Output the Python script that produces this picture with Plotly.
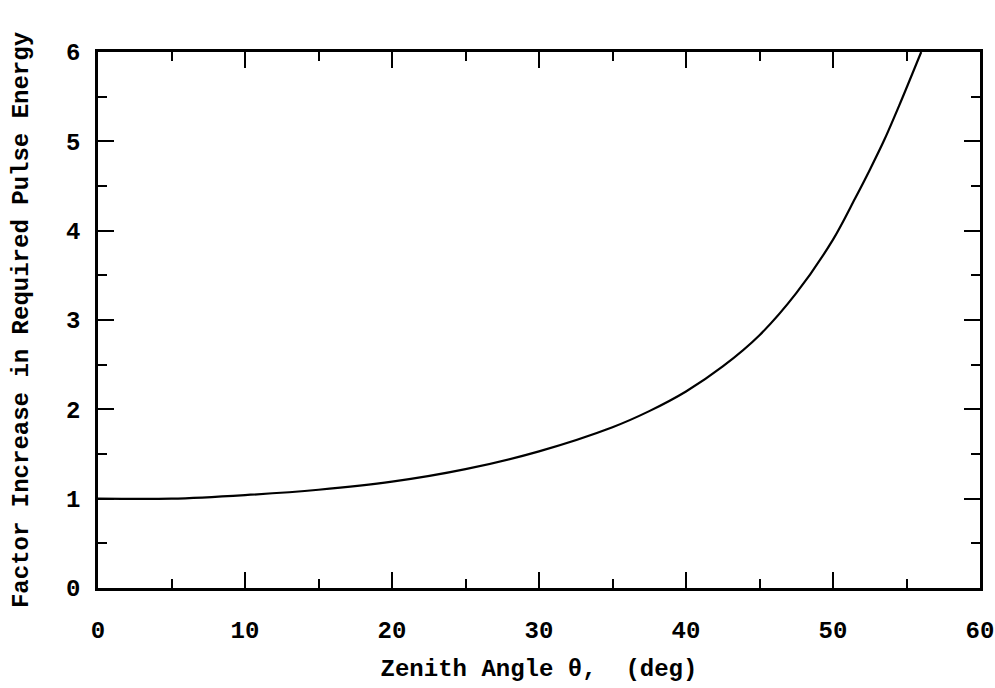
import plotly.graph_objects as go

zenith_deg = [0, 5, 10, 15, 20, 25, 30, 35, 37.5, 40, 42.5, 45, 47.5, 50, 51.5, 52.5, 53.5, 54.5, 56.0]
factor = [1.00, 1.00, 1.04, 1.10, 1.19, 1.33, 1.53, 1.80, 1.98, 2.20, 2.48, 2.83, 3.30, 3.90, 4.36, 4.68, 5.02, 5.40, 6.0]

x_ticks = [0, 10, 20, 30, 40, 50, 60]
y_ticks = [0, 1, 2, 3, 4, 5, 6]

FONT = "Liberation Mono, Courier New, monospace"

fig = go.Figure()
fig.add_trace(go.Scatter(
    x=zenith_deg, y=factor, mode="lines",
    line=dict(color="black", width=2.2, shape="spline", smoothing=0.9),
    showlegend=False, hoverinfo="skip",
))

axis_common = dict(
    showgrid=False, zeroline=False, automargin=False,
    showline=True, linecolor="black", linewidth=2.5, mirror="allticks",
    ticks="inside", ticklen=16, tickwidth=2, tickcolor="black",
    tickfont=dict(family=FONT, size=24, color="black", weight="bold"),
    minor=dict(ticks="inside", ticklen=9, tickwidth=2, tickcolor="black", showgrid=False),
)

fig.update_xaxes(
    range=[0, 60], tickvals=x_ticks, ticktext=[str(v) for v in x_ticks],
    minor_dtick=5, ticklabelstandoff=18,
    title=dict(text="Zenith Angle θ,  (deg)", standoff=16,
               font=dict(family=FONT, size=24, color="black", weight="bold")),
    **axis_common,
)
fig.update_yaxes(
    range=[0, 6], tickvals=y_ticks, ticktext=[str(v) for v in y_ticks],
    minor_dtick=0.5, ticklabelstandoff=10,
    title=dict(text="Factor Increase in Required Pulse Energy", standoff=31,
               font=dict(family=FONT, size=24, color="black", weight="bold")),
    **axis_common,
)

fig.update_layout(
    width=995, height=688,
    margin=dict(l=98, r=15, t=52, b=100),
    paper_bgcolor="white", plot_bgcolor="white",
)

fig.write_html("out.html")
